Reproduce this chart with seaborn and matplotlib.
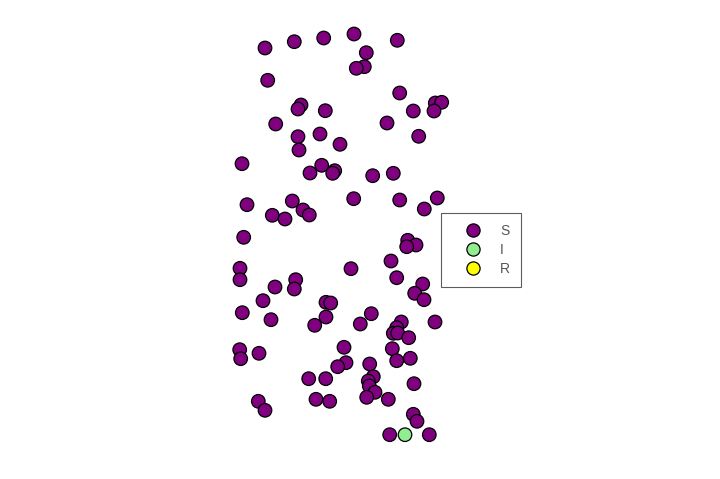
import numpy as np
import pandas as pd
import seaborn as sns
import matplotlib.pyplot as plt
from matplotlib.lines import Line2D

# node positions (pixel estimates), state per node
px = [265, 294.3, 323.7, 354, 397.3, 366.3, 364.3, 356.3, 267.7, 399.7,
      435.3, 441.7, 434, 413.3, 301, 298, 325.3, 275.7, 387, 418.7,
      298, 320, 340, 299,
      242, 321.7, 334.7, 332.7, 310, 372.7, 393.3, 247, 292.3, 303,
      309.3, 272.3, 285, 353.7, 399.7, 437.3, 424.3, 243.7, 407.7, 416,
      406.7, 391, 351, 240, 240, 295.7, 396.7, 422.7, 275, 294.3,
      414.7, 424, 263, 326, 330.7, 242.3, 271, 326, 314.7, 371.3,
      360.3, 401.3, 435, 396.7, 393.3, 397.7, 408.7, 239.7, 240.7, 259,
      344, 346, 337.7, 369.7, 392.3, 396.7, 410.3, 308.7, 325.7, 373.3,
      368.3, 369.3, 375, 366.7, 388.3, 414, 258.3, 265, 316, 329.7,
      413.3, 417, 389.7, 405, 429.3]
py = [48, 41.7, 38, 34, 40.3, 52.7, 66.7, 68.3, 80.3, 93,
      103, 102.3, 111, 111, 105, 109, 110.7, 124, 123, 136.3,
      136.7, 134, 144.3, 150,
      163.7, 165.3, 170.7, 173.3, 173, 175.7, 173.3, 204.7, 201, 210,
      215, 215.3, 219, 198.7, 200, 198, 209, 237.3, 240.3, 245,
      246.7, 261, 268.7, 268.3, 279.7, 279.7, 277.7, 284, 287, 289,
      293.3, 299.7, 300.7, 302.3, 303, 312.7, 319.7, 317, 325.3, 313.7,
      324, 322, 322, 327.7, 333.3, 333, 337.7, 349.7, 358.7, 353.3,
      347.3, 362.7, 366.7, 364, 348.7, 360.7, 358.3, 378.7, 378.7, 376.7,
      381, 386, 392.3, 397.3, 399.3, 383.7, 401.3, 410.3, 399.3, 401.3,
      414.3, 421.3, 434.7, 434.7, 434.7]
states = ["S"] * len(px)
states[-2] = "I"

state_names = ["S", "I", "R"]
state_colors = ["purple", "lightgreen", "yellow"]

df = pd.DataFrame({"x": (np.array(px) - 240) / 400,
                   "y": (435 - np.array(py)) / 400,
                   "state": states})

sns.set_style("white")
fig = plt.figure(figsize=(7.2, 4.79), dpi=100)
ax = fig.add_axes([0, 0, 1, 1])
sns.scatterplot(data=df, x="x", y="y", hue="state", hue_order=state_names,
                palette=dict(zip(state_names, state_colors)), s=95,
                edgecolor="black", linewidth=0.9, legend=False, ax=ax)
ax.set_xlim(-240 / 400, 480 / 400)
ax.set_ylim((435 - 479) / 400, 435 / 400)
ax.axis("off")

handles = [Line2D([], [], marker="o", linestyle="", markersize=9.5,
                  markerfacecolor=c, markeredgecolor="black", markeredgewidth=0.9)
           for c in state_colors]
leg = fig.legend(handles, state_names, loc="upper left",
                 bbox_to_anchor=(441 / 720, 1 - 213 / 479), borderaxespad=0,
                 frameon=True, fancybox=False, edgecolor="#333333",
                 labelcolor="#555555", handletextpad=0.45,
                 borderpad=0.8, labelspacing=0.35, handlelength=3.0,
                 prop={"family": "Liberation Sans", "size": 10})
leg.get_frame().set_linewidth(0.8)

fig.savefig("out.png", dpi=100)
